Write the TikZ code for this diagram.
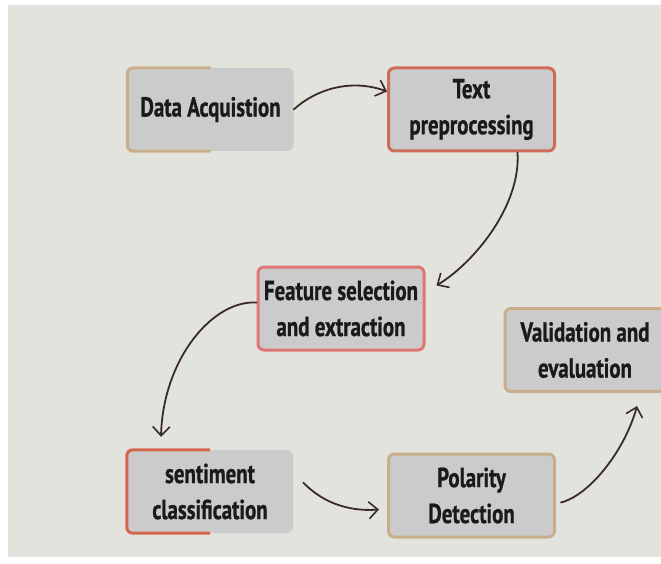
\documentclass[tikz,border=0pt]{standalone}
\usepackage{fontspec}
\setmainfont{PT Sans}[FakeStretch=0.76, BoldFeatures={FakeBold=0.8}]
\usetikzlibrary{arrows.meta}
\definecolor{paper}{HTML}{E3E3DD}
\definecolor{boxfill}{HTML}{CBCBCB}
\definecolor{tan}{HTML}{C9AE8C}
\definecolor{brick}{HTML}{CF6B5A}
\definecolor{rosy}{HTML}{DE7676}
\definecolor{rust}{HTML}{D3664C}
\definecolor{ink}{HTML}{3B2B26}
\definecolor{txt}{HTML}{1A1A1A}
\tikzset{
  card/.style={fill=boxfill, rounded corners=6pt, minimum width=166pt, minimum height=83pt,
    inner sep=0pt, align=center, text=txt, font=\bfseries\fontsize{27.5}{36}\selectfont},
  rim/.style={line width=3pt, rounded corners=6pt},
  flow/.style={draw=ink, line width=1.8pt, line cap=round,
    -{Straight Barb[length=9pt,width=17pt,line width=1.6pt]}}
}
\begin{document}
\begin{tikzpicture}[x=1pt,y=-1pt]
  \useasboundingbox (0,0) rectangle (661,564);
  \fill[white] (0,0) rectangle (661,564);
  \fill[paper] (8,5) rectangle (661,557);

  % process steps
  \node[card] (acq) at (210.5,109.5) {Data Acquistion};
  \node[card, draw=brick, line width=3pt] (pre) at (471.5,109.5) {Text\\preprocessing};
  \node[card, draw=rosy, line width=3pt] (feat) at (341,308.5) {Feature selection\\and extraction};
  \node[card] (sent) at (210,491.5) {sentiment\\classification};
  \node[card, draw=tan, line width=3pt] (pol) at (471.5,495.5) {Polarity\\Detection};
  \node[card, draw=tan, line width=3pt, minimum width=160pt] (val) at (585,350) {Validation and\\evaluation};

  % half outlines on the left side of two cards
  \draw[rim, draw=tan] (acq.north) -- (acq.north west) -- (acq.south west) -- (acq.south);
  \draw[rim, draw=rust] (sent.north) -- (sent.north west) -- (sent.south west) -- (sent.south);

  % connectors
  \draw[flow] (acq.east) .. controls (315,90) and (350,78) .. ([yshift=18pt]pre.west);
  \draw[flow] ([xshift=46pt]pre.south) .. controls (521,205) and (475,262) .. ([xshift=11pt,yshift=23pt]feat.east);
  \draw[flow] ([yshift=6pt]feat.west) .. controls (212,300) and (163,360) .. ([xshift=-49pt,yshift=13pt]sent.north);
  \draw[flow] ([xshift=10pt,yshift=9pt]sent.east) .. controls (320,500) and (345,512) .. ([xshift=-8pt,yshift=-14pt]pol.west);
  \draw[flow] ([xshift=5pt,yshift=-7pt]pol.east) .. controls (590,495) and (625,450) .. ([xshift=52pt,yshift=-13pt]val.south);
\end{tikzpicture}
\end{document}
